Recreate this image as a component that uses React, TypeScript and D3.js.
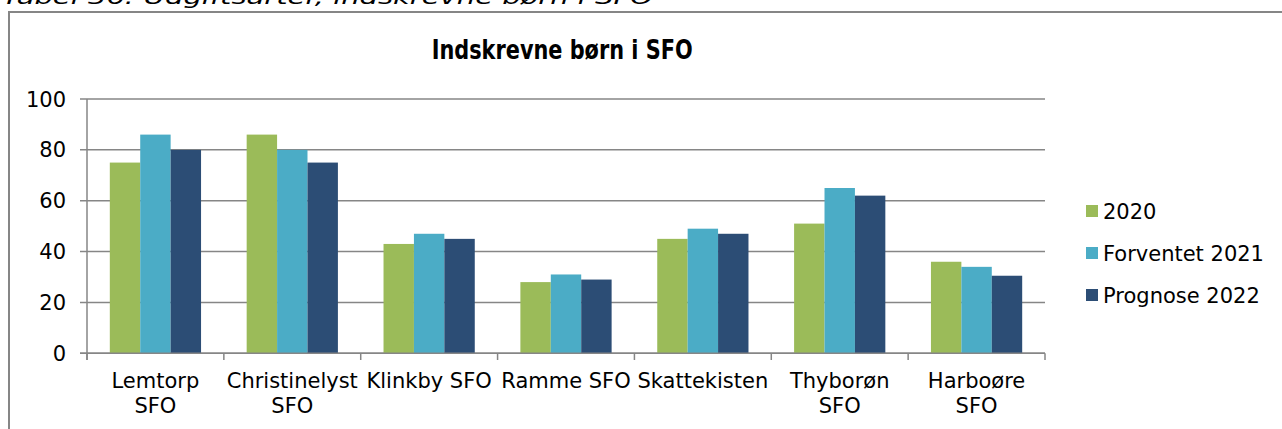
import * as d3 from "d3";

const categories = [
  "Lemtorp\nSFO",
  "Christinelyst\nSFO",
  "Klinkby SFO",
  "Ramme SFO",
  "Skattekisten",
  "Thyborøn\nSFO",
  "Harboøre\nSFO",
];
const seriesNames = ["2020", "Forventet 2021", "Prognose 2022"];
const values2020 = [75, 86, 43, 28, 45, 51, 36];
const values2021 = [86, 80, 47, 31, 49, 65, 34];
const values2022 = [80, 75, 45, 29, 47, 62, 30.5];
const yTicks = [0, 20, 40, 60, 80, 100];

const colors = ["#9BBB59", "#4BACC6", "#2C4D75"];
const font = "Verdana, 'DejaVu Sans', sans-serif";
const grey = "#868686";

const App = () => {
  const width = 1282;
  const height = 429;
  const allSeries = [values2020, values2021, values2022];

  const x0 = d3.scaleBand<string>().domain(categories).range([87, 1045]).padding(0);
  const x1 = d3
    .scaleBand<string>()
    .domain(seriesNames)
    .range([0, x0.bandwidth()])
    .paddingInner(0)
    .paddingOuter(0.75);
  const y = d3.scaleLinear().domain([0, 100]).range([353.3, 99]);

  const bounds = categories.map((c) => x0(c) as number).concat([1045]);

  return (
    <svg
      width={width}
      height={height}
      style={{ position: "absolute", left: 0, top: 0, background: "#fff" }}
      fontFamily={font}
    >
      <text x={2} y={4} fontSize={20} fontStyle="italic" textLength={651} lengthAdjust="spacingAndGlyphs" fill="#000">
        Tabel 36: Udgiftsarter, indskrevne børn i SFO
      </text>
      <rect x={9} y={12} width={1300} height={440} fill="#fff" stroke={grey} strokeWidth={2} />

      <text x={431.7} y={59} fontSize={26} fontWeight="bold" textLength={261} lengthAdjust="spacingAndGlyphs">
        Indskrevne børn i SFO
      </text>

      {yTicks.map((t) => (
        <g key={t}>
          <line x1={80} x2={1045} y1={y(t)} y2={y(t)} stroke={grey} strokeWidth={1.5} />
          <text x={66} y={y(t) + 7.5} fontSize={21} textAnchor="end" fill="#000">
            {t}
          </text>
        </g>
      ))}

      {categories.map((c, ci) => (
        <g key={c}>
          {allSeries.map((vals, si) => (
            <rect
              key={si}
              x={(x0(c) as number) + (x1(seriesNames[si]) as number)}
              y={y(vals[ci])}
              width={x1.bandwidth()}
              height={y(0) - y(vals[ci])}
              fill={colors[si]}
            />
          ))}
        </g>
      ))}

      <line x1={87} x2={87} y1={99} y2={360} stroke={grey} strokeWidth={1.5} />
      <line x1={80} x2={1045} y1={y(0)} y2={y(0)} stroke={grey} strokeWidth={1.5} />
      {bounds.map((b, i) => (
        <line key={i} x1={b} x2={b} y1={y(0)} y2={360} stroke={grey} strokeWidth={1.5} />
      ))}

      {categories.map((c) => (
        <text key={c} x={(x0(c) as number) + x0.bandwidth() / 2} fontSize={21} textAnchor="middle" fill="#000">
          {c.split("\n").map((line, li) => (
            <tspan key={li} x={(x0(c) as number) + x0.bandwidth() / 2} y={388 + li * 25}>
              {line}
            </tspan>
          ))}
        </text>
      ))}

      {seriesNames.map((s, i) => (
        <g key={s}>
          <rect x={1086} y={205 + i * 42} width={12} height={12} fill={colors[i]} />
          <text x={1103} y={218.5 + i * 42} fontSize={21} fill="#000">
            {s}
          </text>
        </g>
      ))}
    </svg>
  );
};

export default App;
